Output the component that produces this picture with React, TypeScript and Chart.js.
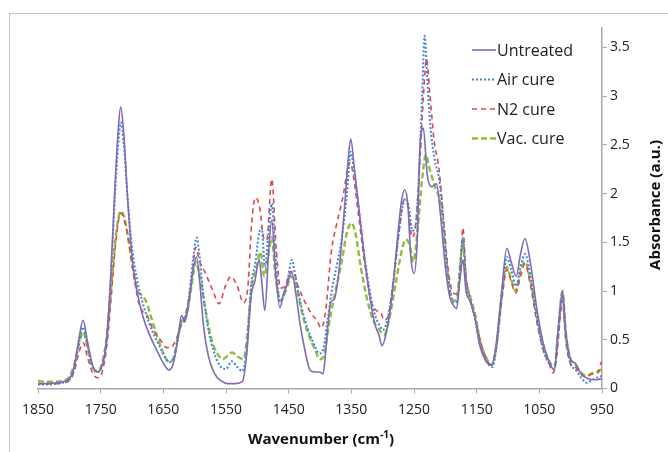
import React, { useEffect, useRef } from "react";
import { Chart, registerables } from "chart.js";
Chart.register(...registerables);

const seriesNames = ["Untreated", "Air cure", "N2 cure", "Vac. cure"];
const xTickValues = [1850, 1750, 1650, 1550, 1450, 1350, 1250, 1150, 1050, 950];
const yTickValues = [0, 0.5, 1, 1.5, 2, 2.5, 3, 3.5];
const xTitle = "Wavenumber (cm";
const xTitleSup = "-1";
const yTitle = "Absorbance (a.u.)";

const untreated: [number, number][] = [
  [1850,0.05],[1835,0.05],[1820,0.06],[1810,0.07],[1800,0.1],[1793,0.2],[1785,0.5],[1778,0.7],[1771,0.48],[1763,0.24],[1756,0.17],[1749,0.21],[1741,0.48],[1734,1.15],[1727,2.1],[1722,2.65],[1718,2.89],[1713,2.6],[1707,1.95],[1700,1.35],[1692,1.0],[1683,0.75],[1672,0.55],[1661,0.4],[1650,0.26],[1641,0.19],[1634,0.26],[1627,0.5],[1621,0.75],[1616,0.68],[1610,0.85],[1603,1.2],[1597,1.35],[1592,1.1],[1586,0.65],[1578,0.33],[1568,0.15],[1558,0.08],[1548,0.05],[1535,0.05],[1524,0.07],[1517,0.35],[1510,0.95],[1504,1.1],[1497,1.32],[1493,1.1],[1488,0.8],[1482,1.4],[1477,1.73],[1471,1.2],[1464,0.83],[1458,0.98],[1452,1.08],[1445,1.19],[1438,0.95],[1432,0.67],[1424,0.39],[1416,0.19],[1408,0.17],[1401,0.17],[1395,0.15],[1390,0.45],[1383,0.88],[1377,0.92],[1369,1.25],[1360,1.93],[1355,2.35],[1351,2.56],[1345,2.25],[1338,1.85],[1330,1.4],[1320,0.92],[1312,0.65],[1306,0.55],[1301,0.44],[1294,0.58],[1285,0.95],[1277,1.5],[1270,1.92],[1265,2.04],[1260,1.9],[1255,1.35],[1250,1.18],[1245,1.5],[1240,2.55],[1235,2.67],[1229,2.2],[1222,2.07],[1214,2.1],[1208,1.8],[1200,1.25],[1193,0.94],[1187,0.85],[1182,0.82],[1177,1.1],[1172,1.32],[1167,1.0],[1161,0.9],[1153,0.74],[1146,0.47],[1136,0.29],[1126,0.24],[1119,0.45],[1110,1.0],[1102,1.44],[1095,1.3],[1087,1.15],[1080,1.38],[1073,1.54],[1064,1.28],[1054,0.82],[1044,0.47],[1034,0.27],[1026,0.19],[1020,0.6],[1013,1.0],[1008,0.6],[1000,0.3],[993,0.26],[983,0.15],[972,0.1],[960,0.09],[950,0.1]
];

const airCure: [number, number][] = [
  [1850,0.04],[1835,0.04],[1820,0.05],[1810,0.06],[1800,0.09],[1793,0.18],[1785,0.45],[1778,0.63],[1771,0.44],[1763,0.22],[1756,0.17],[1749,0.21],[1741,0.45],[1734,1.1],[1727,2.0],[1722,2.5],[1718,2.73],[1713,2.5],[1707,1.95],[1700,1.45],[1692,1.12],[1683,0.88],[1672,0.66],[1661,0.5],[1650,0.36],[1641,0.27],[1634,0.3],[1627,0.5],[1621,0.7],[1616,0.7],[1610,0.9],[1603,1.3],[1597,1.55],[1592,1.35],[1586,0.95],[1578,0.6],[1568,0.35],[1558,0.22],[1550,0.2],[1541,0.28],[1532,0.22],[1524,0.18],[1517,0.4],[1510,1.05],[1503,1.3],[1497,1.6],[1493,1.65],[1488,1.25],[1482,1.6],[1477,1.9],[1471,1.35],[1464,0.9],[1458,0.95],[1452,1.1],[1445,1.32],[1438,1.1],[1430,0.85],[1420,0.62],[1410,0.46],[1401,0.36],[1395,0.4],[1388,0.7],[1380,1.05],[1372,1.3],[1365,1.55],[1357,2.0],[1351,2.43],[1345,2.2],[1338,1.85],[1330,1.4],[1320,0.98],[1312,0.75],[1305,0.65],[1300,0.6],[1292,0.72],[1283,1.1],[1275,1.55],[1268,1.88],[1263,1.95],[1258,1.85],[1253,1.62],[1248,1.65],[1242,2.2],[1237,3.0],[1233,3.62],[1229,3.2],[1224,2.7],[1217,2.35],[1210,2.15],[1204,1.8],[1198,1.3],[1192,0.98],[1186,0.88],[1181,0.9],[1176,1.25],[1172,1.55],[1167,1.1],[1161,0.92],[1153,0.72],[1145,0.47],[1135,0.29],[1125,0.22],[1119,0.4],[1110,0.95],[1102,1.35],[1095,1.22],[1087,1.05],[1080,1.25],[1073,1.38],[1064,1.15],[1054,0.72],[1044,0.4],[1034,0.25],[1026,0.2],[1020,0.55],[1013,0.95],[1008,0.55],[1000,0.25],[993,0.2],[983,0.11],[975,0.06],[965,0.09],[955,0.12],[950,0.13]
];

const n2Cure: [number, number][] = [
  [1850,0.05],[1835,0.05],[1820,0.05],[1810,0.06],[1800,0.08],[1792,0.18],[1785,0.36],[1778,0.47],[1771,0.32],[1763,0.16],[1755,0.11],[1748,0.16],[1740,0.45],[1733,0.95],[1726,1.5],[1718,1.8],[1712,1.72],[1705,1.5],[1698,1.2],[1690,0.9],[1684,0.8],[1676,0.75],[1666,0.6],[1655,0.5],[1645,0.42],[1638,0.42],[1630,0.5],[1623,0.62],[1615,0.75],[1606,1.05],[1598,1.45],[1592,1.3],[1584,1.2],[1572,1.02],[1561,0.87],[1551,1.05],[1542,1.15],[1532,1.05],[1522,0.88],[1515,1.05],[1509,1.7],[1503,1.96],[1496,1.85],[1490,1.55],[1485,1.52],[1477,2.15],[1470,1.45],[1463,1.03],[1455,1.06],[1447,1.2],[1442,1.2],[1435,1.05],[1425,0.9],[1414,0.77],[1405,0.7],[1398,0.62],[1391,0.8],[1382,1.4],[1373,1.7],[1363,1.98],[1356,2.25],[1352,2.32],[1346,2.15],[1338,1.75],[1328,1.25],[1318,0.88],[1310,0.8],[1303,0.78],[1298,0.7],[1291,0.75],[1282,1.15],[1273,1.65],[1266,1.93],[1260,1.88],[1253,1.55],[1247,1.7],[1240,2.4],[1235,3.0],[1230,3.38],[1225,3.05],[1218,2.55],[1210,2.25],[1203,1.75],[1196,1.25],[1189,1.0],[1183,0.97],[1178,1.05],[1175,1.35],[1172,1.65],[1167,1.15],[1160,0.92],[1150,0.65],[1140,0.4],[1128,0.25],[1119,0.4],[1109,0.95],[1102,1.22],[1095,1.1],[1088,0.98],[1080,1.15],[1073,1.28],[1064,1.05],[1054,0.68],[1044,0.4],[1034,0.25],[1028,0.16],[1022,0.35],[1016,0.78],[1013,0.9],[1008,0.5],[1000,0.25],[993,0.22],[983,0.14],[975,0.12],[965,0.15],[956,0.16],[951,0.27],[950,0.22]
];

const vacCure: [number, number][] = [
  [1850,0.08],[1840,0.07],[1825,0.07],[1810,0.08],[1800,0.12],[1792,0.25],[1785,0.45],[1778,0.58],[1771,0.42],[1763,0.22],[1756,0.18],[1748,0.25],[1740,0.55],[1733,1.05],[1726,1.55],[1718,1.82],[1712,1.75],[1705,1.5],[1698,1.2],[1691,1.0],[1685,0.96],[1678,0.9],[1668,0.7],[1658,0.5],[1648,0.33],[1640,0.27],[1633,0.33],[1626,0.55],[1620,0.7],[1613,0.76],[1605,1.05],[1598,1.3],[1591,1.12],[1583,0.82],[1573,0.5],[1563,0.35],[1555,0.3],[1547,0.34],[1540,0.37],[1532,0.33],[1522,0.3],[1516,0.55],[1509,1.05],[1502,1.22],[1495,1.4],[1489,1.15],[1483,1.35],[1477,1.55],[1471,1.15],[1463,0.9],[1455,1.0],[1445,1.15],[1437,1.02],[1428,0.76],[1418,0.55],[1408,0.4],[1400,0.3],[1394,0.33],[1386,0.65],[1376,0.98],[1366,1.28],[1357,1.6],[1350,1.7],[1343,1.58],[1335,1.25],[1325,0.92],[1315,0.7],[1305,0.6],[1298,0.55],[1290,0.7],[1280,1.05],[1270,1.4],[1263,1.53],[1257,1.47],[1251,1.3],[1244,1.65],[1237,2.15],[1231,2.4],[1225,2.25],[1217,2.08],[1208,1.9],[1200,1.4],[1193,1.02],[1186,0.9],[1181,0.95],[1176,1.3],[1172,1.5],[1167,1.12],[1161,0.96],[1152,0.75],[1145,0.5],[1135,0.32],[1126,0.24],[1119,0.42],[1110,0.95],[1102,1.25],[1095,1.12],[1088,1.0],[1080,1.2],[1073,1.3],[1064,1.1],[1054,0.75],[1044,0.45],[1034,0.28],[1026,0.22],[1020,0.6],[1013,1.0],[1008,0.58],[1000,0.3],[993,0.25],[983,0.16],[975,0.13],[965,0.16],[955,0.18],[950,0.2]
];

const seriesData = [untreated, airCure, n2Cure, vacCure];
const seriesColors = ["#8069b8", "#3f86d6", "#e04848", "#8dbf3a"];
const seriesDash = [[], [2, 2], [5, 4], [6, 3]];
const seriesWidth = [1.6, 2, 1.6, 2.4];

const FONT = "'Open Sans', 'Noto Sans', sans-serif";

const overlayPlugin = {
  id: "overlay",
  afterDraw(chart: any) {
    const { ctx, chartArea } = chart;
    ctx.save();
    // legend
    const lx0 = chartArea.right - 130;
    const lx1 = chartArea.right - 106;
    chart.data.datasets.forEach((ds: any, i: number) => {
      const y = chartArea.top + 22 + i * 29.5;
      ctx.beginPath();
      ctx.strokeStyle = ds.borderColor;
      ctx.lineWidth = ds.borderWidth;
      ctx.setLineDash(ds.borderDash || []);
      ctx.moveTo(lx0, y);
      ctx.lineTo(lx1, y);
      ctx.stroke();
      ctx.setLineDash([]);
      ctx.fillStyle = "#222";
      ctx.font = `16px ${FONT}`;
      ctx.textAlign = "left";
      ctx.textBaseline = "middle";
      ctx.fillText(ds.label, lx1 + 1, y + 1);
    });
    // x title with superscript
    ctx.fillStyle = "#111";
    ctx.textBaseline = "alphabetic";
    ctx.font = `bold 15px ${FONT}`;
    const w1 = ctx.measureText(xTitle).width;
    const w3 = ctx.measureText(")").width;
    ctx.font = `bold 10px ${FONT}`;
    const w2 = ctx.measureText(xTitleSup).width;
    const cx = (chartArea.left + chartArea.right) / 2 + 1;
    let x = cx - (w1 + w2 + w3) / 2;
    const by = 444;
    ctx.font = `bold 15px ${FONT}`;
    ctx.fillText(xTitle, x, by);
    x += w1;
    ctx.font = `bold 10px ${FONT}`;
    ctx.fillText(xTitleSup, x, by - 6);
    x += w2;
    ctx.font = `bold 15px ${FONT}`;
    ctx.fillText(")", x, by);
    // y title
    ctx.save();
    ctx.translate(656, 205);
    ctx.rotate(-Math.PI / 2);
    ctx.textAlign = "center";
    ctx.textBaseline = "middle";
    ctx.font = `bold 15px ${FONT}`;
    ctx.fillText(yTitle, 0, 0);
    ctx.restore();
    ctx.restore();
  },
};

export default function App() {
  const ref = useRef<HTMLCanvasElement | null>(null);
  useEffect(() => {
    if (!ref.current) return;
    const chart = new Chart(ref.current, {
      type: "line",
      data: {
        datasets: seriesNames.map((name, i) => ({
          label: name,
          data: seriesData[i].map(([x, y]) => ({ x, y })),
          borderColor: seriesColors[i],
          backgroundColor: seriesColors[i],
          borderDash: seriesDash[i],
          borderWidth: seriesWidth[i],
          pointRadius: 0,
          cubicInterpolationMode: "monotone" as const,
          fill: false,
        })),
      },
      options: {
        animation: false,
        responsive: false,
        layout: { padding: { left: 38, top: 28, right: 0, bottom: 0 } },
        plugins: { legend: { display: false }, tooltip: { enabled: false } },
        scales: {
          x: {
            type: "linear",
            reverse: true,
            min: 950,
            max: 1850,
            afterBuildTicks: (s: any) => {
              s.ticks = xTickValues.map((v) => ({ value: v }));
            },
            afterFit: (s: any) => {
              s.height = 63.5;
            },
            grid: { display: true, drawOnChartArea: false, drawTicks: true, tickLength: 5, color: "#a8a8a8" },
            border: { display: true, color: "#a8a8a8", width: 1.5 },
            ticks: {
              padding: 8,
              maxRotation: 0,
              autoSkip: false,
              color: "#222",
              font: { family: FONT, size: 14 },
              callback: (v: any) => String(v),
            },
          },
          y: {
            type: "linear",
            position: "right",
            min: 0,
            max: 3.7,
            afterBuildTicks: (s: any) => {
              s.ticks = yTickValues.map((v) => ({ value: v }));
            },
            afterFit: (s: any) => {
              s.width = 66;
            },
            grid: { display: true, drawOnChartArea: false, drawTicks: true, tickLength: 5, color: "#a8a8a8" },
            border: { display: true, color: "#a8a8a8", width: 1.5 },
            ticks: {
              padding: 3,
              color: "#222",
              font: { family: FONT, size: 14 },
              callback: (v: any) => String(v),
            },
          },
        },
      },
      plugins: [overlayPlugin],
    });
    return () => chart.destroy();
  }, []);
  return (
    <div style={{ position: "absolute", left: 0, top: 0, width: 668, height: 452, background: "#fff", overflow: "hidden" }}>
      <div
        style={{
          position: "absolute",
          left: 9,
          top: 13,
          width: 700,
          height: 500,
          borderTop: "1.5px solid #c4c4c4",
          borderLeft: "1.5px solid #c4c4c4",
        }}
      />
      <canvas ref={ref} width={668} height={452} style={{ position: "absolute", left: 0, top: 0 }} />
    </div>
  );
}
